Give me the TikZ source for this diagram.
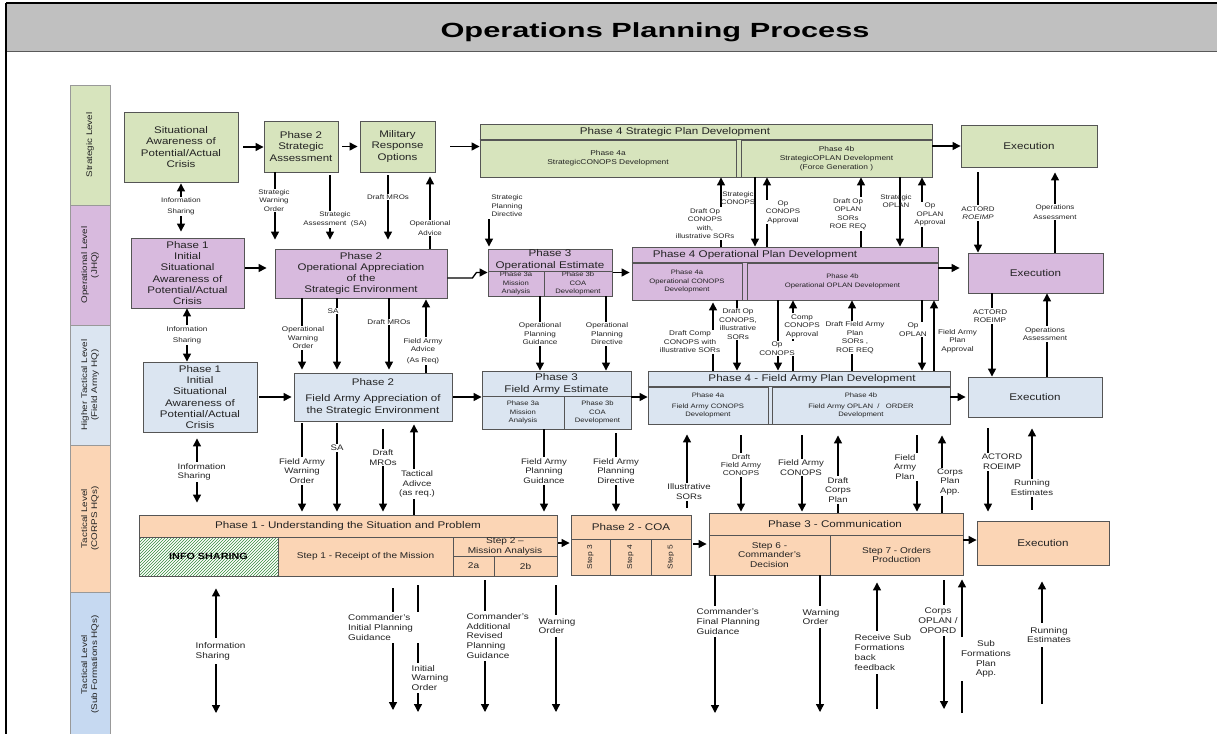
\documentclass[tikz,border=0pt]{standalone}
\usepackage{fontspec}
\setmainfont{Liberation Sans}[FakeStretch=1.2]
\newfontfamily\opptitlefont{Liberation Sans}[FakeStretch=1.5]
\usetikzlibrary{arrows.meta,patterns}
\definecolor{cgreen}{RGB}{215,228,189}
\definecolor{cpink}{RGB}{216,186,222}
\definecolor{cltblue}{RGB}{219,229,241}
\definecolor{corange}{RGB}{251,213,181}
\definecolor{cblue}{RGB}{198,217,241}
\definecolor{cborder}{RGB}{85,85,85}
\definecolor{ctitle}{RGB}{192,192,192}
\definecolor{ctext}{RGB}{35,35,35}
\definecolor{chatch}{RGB}{50,140,60}
\newcommand\szTitle{\opptitlefont\bfseries\fontsize{20.5}{24}\selectfont}
\newcommand\szBox{\fontsize{9.6}{11.3}\selectfont}
\newcommand\szHead{\fontsize{9.7}{11.5}\selectfont}
\newcommand\szSubS{\fontsize{7}{9.3}\selectfont}
\newcommand\szSub{\fontsize{6.4}{8.5}\selectfont}
\newcommand\szStep{\fontsize{8.4}{9.8}\selectfont}
\newcommand\szLabA{\fontsize{6.6}{8.5}\selectfont}
\newcommand\szLabB{\fontsize{6.8}{8.5}\selectfont}
\newcommand\szLabC{\fontsize{8}{9.8}\selectfont}
\newcommand\szLabS{\fontsize{7}{8.3}\selectfont}
\newcommand\szLabD{\fontsize{8.3}{9.7}\selectfont}
\newcommand\szLevel{\fontsize{8.2}{10}\selectfont}
\newcommand\szInfo{\bfseries\fontsize{9}{11}\selectfont}
\tikzset{
  box/.style={draw=cborder, line width=0.9pt, align=center, inner sep=0pt, text=ctext, font=\szBox},
  gbox/.style={box, fill=cgreen},
  pbox/.style={box, fill=cpink},
  bbox/.style={box, fill=cltblue},
  obox/.style={box, fill=corange},
  subbox/.style={draw=cborder, line width=0.9pt, align=center, inner sep=0pt, text=ctext, font=\szSub},
  head/.style={align=center, inner sep=0pt, text=ctext, font=\szHead},
  divider/.style={draw=cborder, line width=0.9pt},
  arr/.style={line width=1.3pt, -{Triangle[length=8pt,width=8pt]}},
  arrb/.style={line width=1.3pt, {Triangle[length=8pt,width=8pt]}-{Triangle[length=8pt,width=8pt]}},
  lab/.style={fill=white, inner xsep=1.5pt, inner ysep=1pt, align=center, text=ctext},
  labA/.style={lab, font=\szLabA},
  labB/.style={lab, font=\szLabB},
  labC/.style={lab, font=\szLabC},
  labD/.style={lab, font=\szLabD, align=left, anchor=west},
  level/.style={draw=cborder!60, line width=0.6pt, rotate=90, minimum height=40pt, inner sep=0pt, align=center, font=\szLevel, text=ctext},
}
\begin{document}
\begin{tikzpicture}[x=1pt,y=-1pt]
\useasboundingbox (0,0) rectangle (1217,733);
\fill[white] (0,0) rectangle (1217,733);
% ---------- title ----------
\node[fill=ctitle, inner sep=0pt, minimum width=1211pt, minimum height=48pt, anchor=north west] (tbar) at (6,3) {};
\coordinate (lowleft) at (6,735);
\draw[black!65, line width=1.5pt] (tbar.south west) -- (tbar.south east);
\draw[black, line width=2.5pt] (tbar.north west) -- (tbar.north east);
\draw[black, line width=2pt] (tbar.north west) -- (lowleft);
\node[font=\szTitle] (ttl) at (655,32) {Operations Planning Process};
% ---------- level bands ----------
\node[level, fill=cgreen, minimum width=120pt] (lv1) at (90,145) {Strategic Level};
\node[level, fill=cpink, minimum width=120pt] (lv2) at (90,265) {Operational Level\\(JHQ)};
\node[level, fill=cltblue, minimum width=120pt] (lv3) at (90,385) {Higher Tactical Level\\(Field Army HQ)};
\node[level, fill=corange, minimum width=147pt] (lv4) at (90,518.5) {Tactical Level\\(CORPS HQs)};
\node[level, fill=cblue, minimum width=145pt] (lv5) at (90,664.5) {Tactical Level\\(Sub Formations HQs)};
% ---------- strategic row ----------
\node[gbox, minimum width=114pt, minimum height=70pt] (s1) at (181,147) {Situational\\Awareness of\\Potential/Actual\\Crisis};
\node[gbox, minimum width=74pt, minimum height=51pt] (s2) at (301,146.5) {Phase 2\\Strategic\\Assessment};
\node[gbox, minimum width=75pt, minimum height=51pt] (s3) at (397.5,146.5) {Military\\Response\\Options};
\node[gbox, minimum width=452pt, minimum height=53pt] (s4) at (706,150.5) {};
\node[head] (s4h) at (675,132) {Phase 4 Strategic Plan Development};
\node[subbox, font=\szSubS, minimum width=256pt, minimum height=37pt] (s4a) at (608,158.5) {Phase 4a\\StrategicCONOPS Development};
\node[subbox, font=\szSubS, minimum width=191pt, minimum height=37pt] (s4b) at (836.5,158.5) {Phase 4b\\StrategicOPLAN Development\\(Force Generation )};
\draw[divider] (s4.west |- s4a.north) -- (s4.east |- s4a.north);
\node[gbox, font=\szHead, minimum width=136pt, minimum height=42pt] (s5) at (1029,146) {Execution};
% ---------- operational row ----------
\node[pbox, minimum width=113pt, minimum height=70pt] (o1) at (187.5,273) {Phase 1\\Initial\\Situational\\Awareness of\\Potential/Actual\\Crisis};
\node[pbox, minimum width=172pt, minimum height=49pt] (o2) at (361,273.5) {Phase 2\\Operational Appreciation\\of the\\Strategic Environment};
\node[pbox, minimum width=124pt, minimum height=47pt] (o3) at (550,272.5) {};
\node[head] (o3h) at (550,260) {Phase 3\\Operational Estimate};
\node[subbox, minimum width=56pt, minimum height=25pt] (o3a) at (516,283.5) {Phase 3a\\Mission\\Analysis};
\node[subbox, minimum width=68pt, minimum height=25pt] (o3b) at (578,283.5) {Phase 3b\\COA\\Development};
\node[pbox, minimum width=306pt, minimum height=53pt] (o4) at (785,273.5) {};
\node[head] (o4h) at (755,255) {Phase 4 Operational Plan Development};
\node[subbox, minimum width=110pt, minimum height=37pt] (o4a) at (687,281.5) {Phase 4a\\Operational CONOPS\\Development};
\node[subbox, minimum width=191pt, minimum height=37pt] (o4b) at (842.5,281.5) {Phase 4b\\Operational OPLAN Development};
\draw[divider] (o4.west |- o4a.north) -- (o4.east |- o4a.north);
\node[pbox, font=\szHead, minimum width=135pt, minimum height=40pt] (o5) at (1035.5,273) {Execution};
% ---------- higher tactical row ----------
\node[bbox, minimum width=114pt, minimum height=70pt] (h1) at (200,397) {Phase 1\\Initial\\Situational\\Awareness of\\Potential/Actual\\Crisis};
\node[bbox, minimum width=158pt, minimum height=48pt] (h2) at (373,397) {Phase 2\\[5pt]Field Army Appreciation of\\the Strategic Environment};
\node[bbox, minimum width=149pt, minimum height=58pt] (h3) at (556.5,400) {};
\node[head] (h3h) at (556.5,384) {Phase 3\\Field Army Estimate};
\node[subbox, minimum width=82pt, minimum height=33pt] (h3a) at (523,412.5) {Phase 3a\\Mission\\Analysis};
\node[subbox, minimum width=67pt, minimum height=33pt] (h3b) at (597.5,412.5) {Phase 3b\\COA\\Development};
\node[bbox, minimum width=302pt, minimum height=53pt] (h4) at (799,397.5) {};
\node[head] (h4h) at (812,379) {Phase 4 - Field Army Plan Development};
\node[subbox, minimum width=120pt, minimum height=37pt] (h4a) at (708,405.5) {Phase 4a\\[2pt]Field Army CONOPS\\Development};
\node[subbox, minimum width=178pt, minimum height=37pt] (h4b) at (861,405.5) {Phase 4b\\[2pt]Field Army OPLAN\ \ /\ \ \ ORDER\\Development};
\draw[divider] (h4.west |- h4a.north) -- (h4.east |- h4a.north);
\node[bbox, font=\szHead, minimum width=134pt, minimum height=40pt] (h5) at (1035,397) {Execution};
% ---------- tactical row ----------
\node[obox, minimum width=418pt, minimum height=61pt] (t1) at (348,545.5) {};
\node[head] (t1h) at (348,526) {Phase 1 - Understanding the Situation and Problem};
\node[draw=cborder, line width=0.9pt, inner sep=0pt, preaction={fill=white}, pattern=north east lines, pattern color=chatch, minimum width=139pt, minimum height=39pt] (t1i) at (208.5,556.5) {};
\node[font=\szInfo, text=black] (t1it) at (t1i) {INFO SHARING};
\node[subbox, font=\szStep, minimum width=175pt, minimum height=39pt] (t1s1) at (365.5,556.5) {Step 1 - Receipt of the Mission};
\node[subbox, font=\szStep, minimum width=104pt, minimum height=19pt] (t1s2) at (505,546.5) {Step 2 --\\Mission Analysis};
\node[subbox, font=\szStep, minimum width=41pt, minimum height=20pt] (t1a) at (473.5,566) {2a};
\node[subbox, font=\szStep, minimum width=63pt, minimum height=20pt] (t1b) at (525.5,566) {2b};
\node[obox, minimum width=120pt, minimum height=60pt] (t2) at (631,545) {};
\node[head] (t2h) at (631,527) {Phase 2 - COA};
\node[subbox, font=\szSubS, rotate=90, minimum width=36pt, minimum height=39pt] (t2a) at (590.5,557) {Step 3};
\node[subbox, font=\szSubS, rotate=90, minimum width=36pt, minimum height=41pt] (t2b) at (630.5,557) {Step 4};
\node[subbox, font=\szSubS, rotate=90, minimum width=36pt, minimum height=40pt] (t2c) at (671,557) {Step 5};
\node[obox, minimum width=254pt, minimum height=62pt] (t3) at (836,544) {};
\node[head] (t3h) at (835,524) {Phase 3 - Communication};
\node[subbox, font=\szStep, minimum width=121pt, minimum height=40pt] (t3a) at (769.5,555) {Step 6 -\\Commander's\\Decision};
\node[subbox, font=\szStep, minimum width=133pt, minimum height=40pt] (t3b) at (896.5,555) {Step 7 - Orders\\Production};
\node[obox, font=\szHead, minimum width=132pt, minimum height=44pt] (t4) at (1043,543) {Execution};
% ---------- horizontal flow arrows ----------
\draw[arr, shorten <=5pt] (s1.east) -- (s1.east -| s2.west);
\draw[arr, shorten <=4pt, shorten >=2pt] (s2.east) -- (s3.west);
\draw[arr, shorten <=15pt] (s3.east) -- (s3.east -| s4.west);
\draw[arr] (s4.east |- s5.west) -- (s5.west);
\draw[arr, shorten <=1pt, shorten >=8pt] (o1.east |- 0,268) -- (o2.west |- 0,268);
\draw[arr] (o2.east |- 0,278) -- ++(25,0) -- ++(4,-5.5) -- (o3.west |- 0,272.5);
\draw[arr, shorten <=1pt, shorten >=2pt] (o3.east) -- (o3.east -| o4.west);
\draw[arr, shorten >=8pt] (o4.east |- 0,268) -- (o5.west |- 0,268);
\draw[arr, shorten <=2pt, shorten >=2pt] (h1.east) -- (h2.west);
\draw[arr, shorten <=1pt] (h2.east) -- (h2.east -| h3.west);
\draw[arr] (h3.east |- h2.east) -- (h4.west |- h2.east);
\draw[arr, shorten >=2pt] (h4.east |- h5.west) -- (h5.west);
\draw[arr, shorten <=1pt, shorten >=1pt] (t1.east |- 0,543) -- (t2.west |- 0,543);
\draw[arr, shorten <=2pt, shorten >=2pt] (t2.east |- 0,544) -- (t3.west |- 0,544);
\draw[arr] (t3.east |- 0,540) -- (t4.west |- 0,540);
% ---------- strategic <-> operational ----------
\coordinate (spd) at (489,219);
\draw[arrb, shorten <=1pt, shorten >=6pt] (181,0 |- s1.south) -- (181,0 |- o1.north);
\draw[arr, shorten >=9pt] (275,0 |- s2.south) -- (275,0 |- o2.north);
\draw[arr, shorten <=3pt, shorten >=9pt] (330,0 |- s2.south) -- (330,0 |- o2.north);
\draw[arr, shorten <=3pt, shorten >=9pt] (388,0 |- s3.south) -- (388,0 |- o2.north);
\draw[arr, shorten >=4pt] (430,0 |- o2.north) -- (430,0 |- s3.south);
\draw[arr, shorten >=2pt] (spd) -- (spd |- o3.north);
\draw[arr] (721,0 |- o4.north) -- (721,0 |- s4.south);
\draw[arr] (755,0 |- s4.south) -- (755,0 |- o4.north);
\draw[arr] (767,0 |- o4.north) -- (767,0 |- s4.south);
\draw[arr] (861,0 |- o4.north) -- (861,0 |- s4.south);
\draw[arr] (900,0 |- s4.south) -- (900,0 |- o4.north);
\draw[arr] (922,0 |- o4.north) -- (922,0 |- s4.south);
\draw[arr, shorten <=5pt] (978,0 |- s5.south) -- (978,0 |- o5.north);
\draw[arr, shorten >=5pt] (1055,0 |- o5.north) -- (1055,0 |- s5.south);
% ---------- operational <-> higher tactical ----------
\draw[arrb] (187,0 |- o1.south) -- (187,0 |- h1.north);
\draw[arr, shorten >=3pt] (302,0 |- o2.south) -- (302,0 |- h2.north);
\draw[arr, shorten >=3pt] (337,0 |- o2.south) -- (337,0 |- h2.north);
\draw[arr, shorten >=3pt] (389,0 |- o2.south) -- (389,0 |- h2.north);
\draw[arr, shorten >=1pt] (426,0 |- h2.north) -- (426,0 |- o2.south);
\draw[arr] (540,0 |- o3.south) -- (540,0 |- h3.north);
\draw[arr] (606,0 |- o3.south) -- (606,0 |- h3.north);
\draw[arr, shorten >=2pt] (713,0 |- h4.north) -- (713,0 |- o4.south);
\draw[arr] (737,0 |- o4.south) -- (737,0 |- h4.north);
\draw[arr] (778,0 |- o4.south) -- (778,0 |- h4.north);
\draw[arr] (793,0 |- h4.north) -- (793,0 |- o4.south);
\draw[arr] (852,0 |- h4.north) -- (852,0 |- o4.south);
\draw[arr] (922,0 |- o4.south) -- (922,0 |- h4.north);
\draw[arr] (934,0 |- h4.north) -- (934,0 |- o4.south);
\draw[arr] (992,0 |- o5.south) -- (992,0 |- h5.north);
\draw[arr] (1047,0 |- h5.north) -- (1047,0 |- o5.south);
% ---------- higher tactical <-> tactical ----------
\draw[arrb, shorten <=6pt, shorten >=12pt] (197,0 |- h1.south) -- (197,0 |- t1.north);
\draw[arr, shorten <=2pt, shorten >=3pt] (302,0 |- h2.south) -- (302,0 |- t1.north);
\draw[arr, shorten <=2pt, shorten >=3pt] (337,0 |- h2.south) -- (337,0 |- t1.north);
\draw[arr, shorten <=8pt, shorten >=3pt] (383,0 |- h2.south) -- (383,0 |- t1.north);
\draw[arr, shorten >=3pt] (414,0 |- t1.north) -- (414,0 |- h2.south);
\draw[arr, shorten >=3pt] (544,0 |- h3.south) -- (544,0 |- t1.north);
\draw[arr, shorten <=4pt, shorten >=3pt] (616,0 |- h3.south) -- (616,0 |- t2.north);
\draw[arr, shorten <=7pt, shorten >=10pt] (687,0 |- t2.north) -- (687,0 |- h4.south);
\draw[arr, shorten <=11pt, shorten >=1pt] (741,0 |- h4.south) -- (741,0 |- t3.north);
\draw[arr, shorten <=11pt, shorten >=1pt] (802,0 |- h4.south) -- (802,0 |- t3.north);
\draw[arr, shorten >=11pt] (838,0 |- t3.north) -- (838,0 |- h4.south);
\draw[arr, shorten <=11pt, shorten >=1pt] (917,0 |- h4.south) -- (917,0 |- t3.north);
\draw[arr, shorten >=11pt] (942,0 |- t3.north) -- (942,0 |- h4.south);
\draw[arr, shorten <=11pt, shorten >=9pt] (988,0 |- h5.south) -- (988,0 |- t4.north);
\draw[arr, shorten <=11pt, shorten >=11pt] (1032,0 |- t4.north) -- (1032,0 |- h5.south);
% ---------- tactical <-> sub formations ----------
\coordinate (floor) at (0,713);
\draw[arrb, shorten <=12pt] (216,0 |- t1.south) -- (216,0 |- floor);
\draw[arr, shorten <=12pt, shorten >=3pt] (393,0 |- t1.south) -- (393,0 |- floor);
\draw[arr, shorten <=9pt, shorten >=1pt] (418,0 |- t1.south) -- (418,0 |- floor);
\draw[arr, shorten <=4pt, shorten >=1pt] (485,0 |- t1.south) -- (485,0 |- floor);
\draw[arr, shorten <=9pt, shorten >=1pt] (556,0 |- t1.south) -- (556,0 |- floor);
\draw[arr] (715,0 |- t3.south) -- (715,0 |- floor);
\draw[arr, shorten >=1pt] (820,0 |- t3.south) -- (820,0 |- floor);
\draw[arr, shorten <=4pt, shorten >=7pt] (877,0 |- floor) -- (877,0 |- t3.south);
\draw[arr, shorten <=5pt, shorten >=4pt] (944,0 |- t3.south) -- (944,0 |- floor);
\draw[arr, shorten >=4pt] (962,0 |- floor) -- (962,0 |- t3.south);
\draw[arr, shorten <=9pt, shorten >=16pt] (1042,0 |- floor) -- (1042,0 |- t4.south);
% ---------- labels: strategic <-> operational ----------
\node[labA] (la1) at (181,206.5) {Information\\[2.5pt]Sharing};
\node[labA] (la2) at (274,200.5) {Strategic\\Warning\\Order};
\node[labA] (la3) at (335,219.5) {Strategic\\Assessment\ \ (SA)};
\node[labA] (la4) at (388,197) {Draft MROs};
\node[labA] (la5) at (430,228) {Operational\\[1.5pt]Advice};
\node[labA] (la6) at (507,206) {Strategic\\Planning\\Directive};
\node[labA] (la7) at (705,223.5) {Draft Op\\CONOPS\\with,\\illustrative SORs};
\node[labA, fill=none] (la8) at (738,198) {Strategic\\CONOPS};
\node[labA] (la9) at (783,212) {Op\\CONOPS\\Approval};
\node[labA] (la10) at (848,214) {Draft Op\\OPLAN\\SORs\\ROE REQ};
\node[labA, fill=none] (la11) at (896,201) {Strategic\\OPLAN};
\node[labA] (la12) at (930,214.5) {Op\\OPLAN\\Approval};
\node[labA] (la13) at (978,213) {ACTORD\\\textit{ROEIMP}};
\node[labA] (la14) at (1055,212) {Operations\\[1.5pt]Assessment};
% ---------- labels: operational <-> higher tactical ----------
\node[labB] (lb1) at (187,335) {Information\\[3pt]Sharing};
\node[labB] (lb2) at (303,338) {Operational\\Warning\\Order};
\node[labB] (lb3) at (333,311) {SA};
\node[labB] (lb4) at (389,322) {Draft MROs};
\node[labB] (lb5) at (423,351) {Field Army\\Advice\\[2pt](As Req)};
\node[labB] (lb6) at (540,334) {Operational\\Planning\\Guidance};
\node[labB] (lb7) at (607,334) {Operational\\Planning\\Directive};
\node[labB] (lb8) at (690,342) {Draft Comp\\CONOPS with\\illustrative SORs};
\node[labB] (lb9) at (738,324) {Draft Op\\CONOPS,\\illustrative\\SORs};
\node[labB] (lb10) at (777,348.5) {Op\\CONOPS};
\node[labB] (lb11) at (802,326) {Comp\\CONOPS\\Approval};
\node[labB] (lb12) at (855,337.5) {Draft Field Army\\Plan\\SORs ,\\ROE REQ};
\node[labB] (lb13) at (913,329.5) {Op\\OPLAN};
\node[labB] (lb14) at (957.5,341) {Field Army\\Plan\\Approval};
\node[labB] (lb15) at (990,316) {ACTORD\\ROEIMP};
\node[labB] (lb16) at (1045,334) {Operations\\Assessment};
% ---------- labels: higher tactical <-> tactical ----------
\node[labC, align=left, anchor=west] (lc1) at (176,472) {Information\\Sharing};
\node[labC] (lc2) at (302,471) {Field Army\\Warning\\Order};
\node[labC] (lc3) at (337,448) {SA};
\node[labC] (lc4) at (383,457.5) {Draft\\MROs};
\node[labC] (lc5) at (417,484) {Tactical\\Adivce\\(as req.)};
\node[labC] (lc6) at (544,471) {Field Army\\Planning\\Guidance};
\node[labC] (lc7) at (616,471) {Field Army\\Planning\\Directive};
\node[labC] (lc8) at (689,492) {Illustrative\\SORs};
\node[lab, font=\szLabS] (lc9) at (741,465) {Draft\\Field Army\\CONOPS};
\node[labC] (lc10) at (801,467.5) {Field Army\\CONOPS};
\node[labC] (lc11) at (838,490) {Draft\\Corps\\Plan};
\node[labC] (lc12) at (905,467) {Field\\Army\\Plan};
\node[labC] (lc13) at (950,482) {Corps\\Plan\\App.};
\node[labC] (lc14) at (1002,462) {ACTORD\\ROEIMP};
\node[labC] (lc15) at (1032,488) {Running\\Estimates};
% ---------- labels: tactical <-> sub formations ----------
\node[labD, inner ysep=4pt] (ld1) at (194,651) {Information\\Sharing};
\node[labD, inner ysep=3pt, inner xsep=2pt, text width=78pt] (ld2) at (346,627.5) {Commander's\\Initial Planning\\Guidance};
\node[labD, inner ysep=2pt] (ld3) at (410,678) {Initial\\Warning\\Order};
\node[labD, inner ysep=3pt] (ld4) at (465,636) {Commander's\\Additional\\Revised\\Planning\\Guidance};
\node[labD, inner ysep=3pt] (ld5) at (537,626) {Warning\\Order};
\node[labD, inner ysep=3pt] (ld6) at (695,621.5) {Commander's\\Final Planning\\Guidance};
\node[labD, inner ysep=3pt] (ld7) at (801,617) {Warning\\Order};
\node[labD, inner ysep=4pt] (ld8) at (853,652.5) {Receive Sub\\Formations\\back\\feedback};
\node[lab, font=\szLabD, inner ysep=3pt] (ld9) at (938,620.5) {Corps\\OPLAN /\\OPORD};
\node[lab, font=\szLabD, inner ysep=4pt] (ld10) at (986,659) {Sub\\Formations\\Plan\\App.};
\node[lab, font=\szLabD, inner ysep=4pt] (ld11) at (1049,635) {Running\\Estimates};
\end{tikzpicture}
\end{document}
